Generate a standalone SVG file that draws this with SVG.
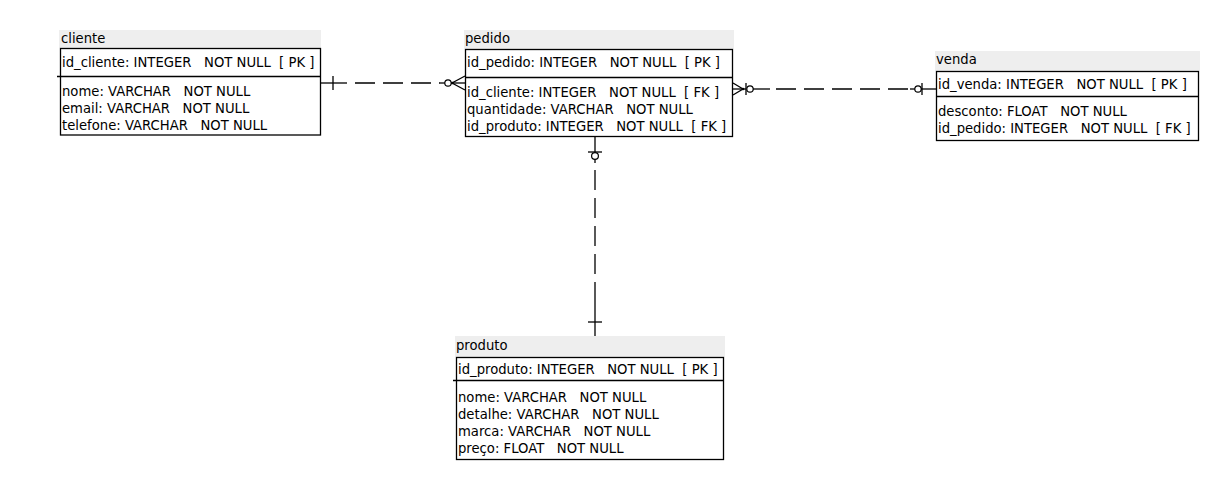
<svg xmlns="http://www.w3.org/2000/svg" width="1221" height="496" viewBox="0 0 1221 496">
<style>
.bg{fill:#ffffff}
.title{fill:#eeeeee}
.box{fill:#ffffff;stroke:#000;stroke-width:1.3}
.sep{stroke:#000;stroke-width:1.3}
text{font-family:"DejaVu Sans",Verdana,sans-serif;font-size:13.2px;fill:#000;white-space:pre}
.ln{stroke:#000;stroke-width:1.3;fill:none}
.dash{stroke:#000;stroke-width:1.3;fill:none;stroke-dasharray:20 8}
.circ{stroke:#000;stroke-width:1.2;fill:#fff}
</style>
<rect class="bg" x="0" y="0" width="1221" height="496"/>

<g id="connectors">
  <!-- cliente - pedido -->
  <line class="ln" x1="321" y1="83" x2="347" y2="83"/>
  <line class="dash" x1="355" y1="83" x2="440" y2="83"/>
  <line class="ln" x1="440" y1="83" x2="445" y2="83"/>
  <line class="ln" x1="333" y1="76" x2="333" y2="90"/>
  <circle class="circ" cx="448" cy="83" r="3.2"/>
  <line class="ln" x1="451" y1="83" x2="465" y2="83"/>
  <path class="ln" d="M465 76 L452 83 L465 90"/>
  <circle cx="452.5" cy="83" r="1.3" fill="#000"/>

  <!-- pedido - venda -->
  <path class="ln" d="M733 83 L743 89 L733 95"/>
  <circle cx="743" cy="89" r="1.3" fill="#000"/>
  <line class="ln" x1="733" y1="89" x2="746" y2="89"/>
  <line class="ln" x1="746" y1="83" x2="746" y2="95"/>
  <circle class="circ" cx="750" cy="89" r="3.2"/>
  <line class="ln" x1="753" y1="89" x2="770" y2="89"/>
  <line class="dash" x1="776" y1="89" x2="910" y2="89"/>
  <line class="ln" x1="910" y1="89" x2="915" y2="89"/>
  <circle class="circ" cx="918" cy="89" r="3.2"/>
  <line class="ln" x1="921" y1="89" x2="936" y2="89"/>
  <line class="ln" x1="922" y1="83" x2="922" y2="95"/>

  <!-- pedido - produto -->
  <line class="ln" x1="595" y1="137" x2="595" y2="152"/>
  <line class="ln" x1="588" y1="152" x2="602" y2="152"/>
  <circle class="circ" cx="595" cy="156" r="3.4"/>
  <line class="ln" x1="595" y1="159.5" x2="595" y2="163"/>
  <line class="dash" x1="595" y1="170" x2="595" y2="300"/>
  <line class="ln" x1="595" y1="300" x2="595" y2="336"/>
  <line class="ln" x1="588" y1="322" x2="602" y2="322"/>
</g>

<g id="cliente">
  <rect class="title" x="59" y="30" width="262" height="18"/>
  <text x="61" y="43">cliente</text>
  <rect class="box" x="60.5" y="48.5" width="260" height="86.5"/>
  <line class="sep" x1="57" y1="76.5" x2="321" y2="76.5"/>
  <text x="62" y="67">id_cliente: INTEGER   NOT NULL  [ PK ]</text>
  <text x="62" y="96">nome: VARCHAR   NOT NULL</text>
  <text x="62" y="113">email: VARCHAR   NOT NULL</text>
  <text x="62" y="130">telefone: VARCHAR   NOT NULL</text>
</g>

<g id="pedido">
  <rect class="title" x="464" y="30" width="270" height="19"/>
  <text x="465" y="43">pedido</text>
  <rect class="box" x="465.5" y="49.5" width="267" height="87"/>
  <line class="sep" x1="465" y1="77.5" x2="733" y2="77.5"/>
  <text x="467" y="67">id_pedido: INTEGER   NOT NULL  [ PK ]</text>
  <text x="467" y="97">id_cliente: INTEGER   NOT NULL  [ FK ]</text>
  <text x="467" y="114">quantidade: VARCHAR   NOT NULL</text>
  <text x="467" y="131">id_produto: INTEGER   NOT NULL  [ FK ]</text>
</g>

<g id="venda">
  <rect class="title" x="935" y="51" width="265" height="20"/>
  <text x="936" y="64">venda</text>
  <rect class="box" x="936.5" y="71.5" width="262" height="69"/>
  <line class="sep" x1="936" y1="96.5" x2="1199" y2="96.5"/>
  <text x="938" y="89">id_venda: INTEGER   NOT NULL  [ PK ]</text>
  <text x="938" y="116">desconto: FLOAT   NOT NULL</text>
  <text x="938" y="133">id_pedido: INTEGER   NOT NULL  [ FK ]</text>
</g>

<g id="produto">
  <rect class="title" x="455" y="336" width="270" height="21"/>
  <text x="456" y="350">produto</text>
  <rect class="box" x="456.5" y="357.5" width="267" height="102"/>
  <line class="sep" x1="453" y1="380.5" x2="724" y2="380.5"/>
  <text x="458" y="374">id_produto: INTEGER   NOT NULL  [ PK ]</text>
  <text x="458" y="402">nome: VARCHAR   NOT NULL</text>
  <text x="458" y="419">detalhe: VARCHAR   NOT NULL</text>
  <text x="458" y="436">marca: VARCHAR   NOT NULL</text>
  <text x="458" y="453">preço: FLOAT   NOT NULL</text>
</g>
</svg>
